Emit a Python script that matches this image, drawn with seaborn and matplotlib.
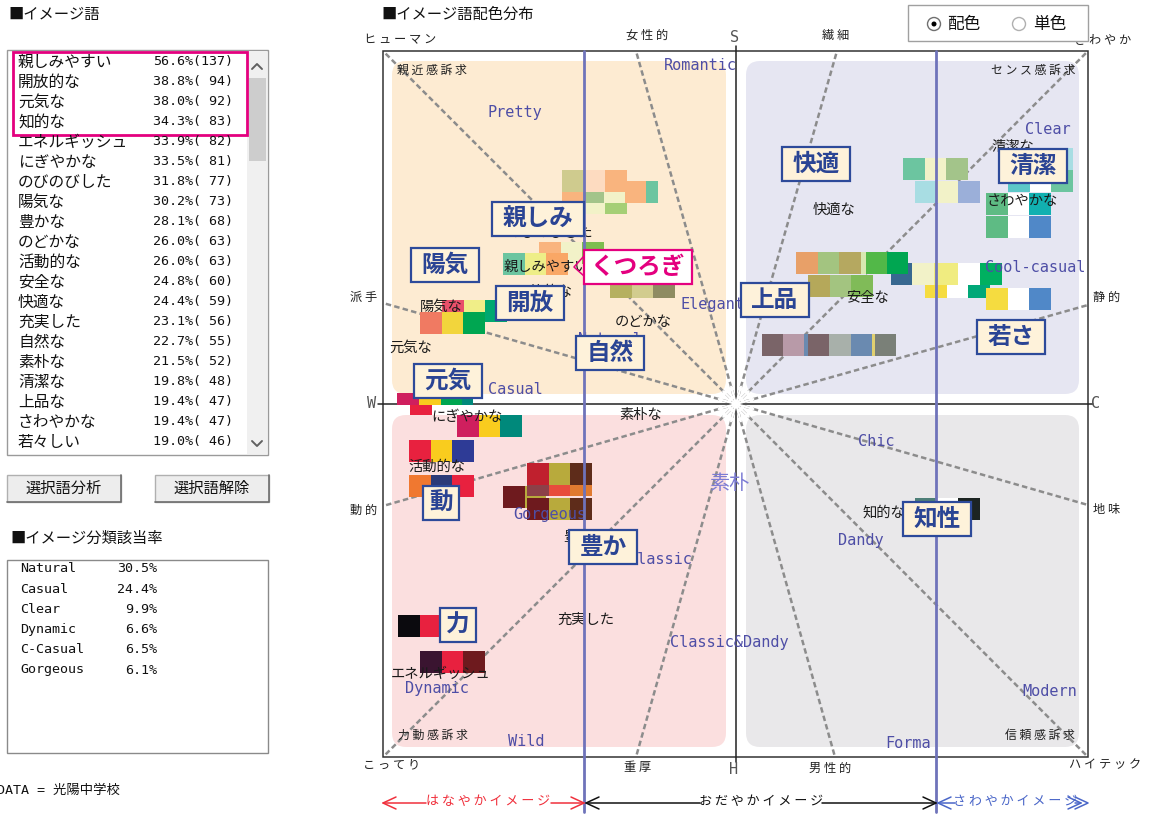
import numpy as np
import pandas as pd
import matplotlib.pyplot as plt
import seaborn as sns
from matplotlib.patches import Rectangle, FancyBboxPatch, Circle

sns.set_theme(style="white")
JP = ['Noto Sans CJK JP', 'DejaVu Sans']
MONO = ['DejaVu Sans Mono', 'Noto Sans CJK JP']
plt.rcParams['font.family'] = JP

# ---------------- left panel data ----------------
word_names = ['親しみやすい', '開放的な', '元気な', '知的な', 'エネルギッシュ', 'にぎやかな',
              'のびのびした', '陽気な', '豊かな', 'のどかな', '活動的な', '安全な', '快適な',
              '充実した', '自然な', '素朴な', '清潔な', '上品な', 'さわやかな', '若々しい']
word_pct = [56.6, 38.8, 38.0, 34.3, 33.9, 33.5, 31.8, 30.2, 28.1, 26.0, 26.0, 24.8, 24.4,
            23.1, 22.7, 21.5, 19.8, 19.4, 19.4, 19.0]
word_counts = [137, 94, 92, 83, 82, 81, 77, 73, 68, 63, 63, 60, 59, 56, 55, 52, 48, 47, 47, 46]

class_names = ['Natural', 'Casual', 'Clear', 'Dynamic', 'C-Casual', 'Gorgeous']
class_pct = [30.5, 24.4, 9.9, 6.6, 6.5, 6.1]

# ---------------- image scale data (centre = 0, 0) ----------------
ray_x = [-353, -100, 101, 352, -353, 352, -353, 352, -353, -100, 99, 352]
ray_y = [353, 353, 353, 353, 101, 99, -102, -101, -353, -353, -353, -353]

pole_labels = ['ヒューマン', '女性的', '繊細', 'さわやか', '派手', '静的', '動的', '地味',
               'こってり', '重厚', '男性的', 'ハイテック']
pole_x = [-336, -89, 100, 367, -372, 371, -372, 371, -344, -98, 94, 369]
pole_y = [364, 369, 369, 363, 107, 107, -106, -106, -361, -364, -364, -361]

compass_labels = ['S', 'W', 'C', 'H']
compass_x = [-1, -364, 360, -2]
compass_y = [366, 0, 0, -366]

appeal_labels = ['親近感訴求', 'センス感訴求', '力動感訴求', '信頼感訴求']
appeal_x = [-304, 297, -303, 304]
appeal_y = [334, 334, -331, -331]

quad_colors = ['#FDEBD2', '#E6E6F2', '#FBDFDF', '#E9E8EA']

cat_names = ['Romantic', 'Pretty', 'Elegant', 'Clear', 'Cool-casual', 'Casual', 'Natural',
             'Chic', 'Gorgeous', 'Classic', 'Dandy', 'Classic&Dandy', 'Dynamic', 'Modern',
             'Wild', 'Forma']
cat_x = [-36, -221, -24, 312, 299, -221, -126, 140, -186, -76, 125, -7, -299, 314, -210, 172]
cat_y = [339, 291, 99, 274, 136, 14, 64, -38, -110, -156, -137, -239, -284, -288, -338, -339]

iw_names = ['のびのびした', '親しみやすい', '開放的な', '陽気な', '元気な', '快適な', '安全な',
            'のどかな', '清潔な', 'さわやかな', 'にぎやかな', '素朴な', '活動的な', '知的な',
            '充実した', 'エネルギッシュ', '豊かな']
iw_x = [-186, -190, -192, -295, -325, 98, 132, -93, 277, 286, -269, -95, -299, 148, -150, -295, -151]
iw_y = [171, 137, 112, 97, 56, 194, 106, 82, 257, 203, -13, -11, -63, -109, -216, -270, -133]

kw_names = ['親しみ', '陽気', '開放', '元気', '自然', '快適', '清潔', '上品', '若さ', '動',
            '豊か', '力', '知性']
kw_x = [-198, -291, -206, -288, -126, 80, 297, 39, 275, -295, -133, -278, 201]
kw_y = [185, 139, 101, 23, 51, 240, 238, 104, 67, -99, -143, -221, -115]
focus_name, focus_x, focus_y = 'くつろぎ', -98, 137

sw_x = [-174, -153, -174, -197, -233, -126, -294, -316, -339, -326, -279, -327, -327,
        -209, -233, -209, -209, -338, -316, 167, 179, 272, 272, 250, 250, 189, 155, 60, 125,
        72, 250, 26, 179]
sw_y = [212, 223, 234, 162, 151, 128, 104, 92, 11, -1, -11, -36, -71,
        -59, -82, -94, -81, -211, -247, 246, 223, 256, 234, 211, 188, 128, 141, 152, 152,
        129, 116, 70, -94]
sw_colors = [
    ['#F9B47E', '#F2F2C8', '#A5CF76'],
    ['#A3C48A', '#F2F2C8', '#F9B47E', '#6CC5A0'],
    ['#CFCB8E', '#FDDBC0', '#F9B47E'],
    ['#F9B47E', '#F2F2C8', '#7DBE4F'],
    ['#6CC5A0', '#EEEE88', '#F9A766'],
    ['#B5B060', '#D2CC8E', '#8E8C62'],
    ['#E8506A', '#F0EE88', '#00A870'],
    ['#F07A62', '#F2D53C', '#00A651'],
    ['#CF1F5E', '#F9CC1E', '#00A651', '#00897B'],
    ['#E8213F'],
    ['#CF1F5E', '#F9CC1E', '#00897B'],
    ['#E8213F', '#F9CC1E', '#2E3B96'],
    ['#F07830', '#2C3A78', '#E8213F'],
    ['#C0202E', '#B8AA3C', '#5E2C1A'],
    ['#6E1A1E', '#B8AA3C'],
    ['#6E1A1E', '#B8AA3C', '#5E2C1A'],
    ['#8C4048', '#E84C3C', '#E07A30'],
    ['#0B0A0E', '#E8213F', '#E8213F'],
    ['#3A1430', '#E8213F', '#6E1A1E'],
    ['#6CC5A0', '#F2F2C8', '#A3C48A'],
    ['#A8DDE3', '#F2F2C8', '#9BAFD9'],
    ['#5CC8C8', '#FFFFFF', '#A8DDE3'],
    ['#5CC8C8', '#FFFFFF', '#6CC5A0'],
    ['#5EBB84', '#FFFFFF', '#12B0B0'],
    ['#5EBB84', '#FFFFFF', '#5088C8'],
    ['#F5DC40', '#FFFFFF', '#00A878'],
    ['#386890', '#F2F2C8', '#F0EC80', '#FFFFFF', '#00B060'],
    ['#E8A068', '#A3C480', '#B5A860'],
    ['#D8E8B0', '#52B848', '#00A651'],
    ['#B5A85A', '#A3C480', '#80BB58'],
    ['#F5DC40', '#FFFFFF', '#5088C8'],
    ['#7A6468', '#B89AA8', '#6A8AB0', '#7A6468', '#A8B0AA', '#6A8AB0', '#E0D070', '#7A8078'],
    ['#4E7F78', '#FFFFFF', '#1C2422'],
]
sw_widths = {1: [21, 21, 21, 12], 8: [22, 22, 21, 11], 26: [21, 22, 24, 22, 22],
             28: [5, 21, 21], 31: [21, 21, 4, 21, 22, 21, 3, 21]}
sw_heights = {8: 12, 9: 10, 16: 11}

# ---------------- figure ----------------
fig = plt.figure(figsize=(11.56, 8.14), dpi=100)
bg = fig.add_axes([0, 0, 1, 1])
bg.set_xlim(0, 1156)
bg.set_ylim(814, 0)
bg.axis('off')

ax = fig.add_axes([383 / 1156, 57 / 814, 705 / 1156, 706 / 814])
ax.axis('off')

top = fig.add_axes([0, 0, 1, 1])
top.set_xlim(0, 1156)
top.set_ylim(814, 0)
top.axis('off')

# ---- left panel ----
bg.text(8, 14, '■イメージ語', fontsize=11, va='center', color='#111')
bg.add_patch(Rectangle((7, 50), 261, 405, fc='white', ec='#9A9A9A', lw=1))
bg.add_patch(Rectangle((247, 51), 20, 403, fc='#F0F0F0', ec='none'))
bg.add_patch(Rectangle((249, 78), 17, 83, fc='#CDCDCD', ec='none'))
bg.plot([252, 257, 262], [69, 64, 69], color='#606060', lw=1.4)
bg.plot([252, 257, 262], [441, 446, 441], color='#606060', lw=1.4)
for i, (n, p, c) in enumerate(zip(word_names, word_pct, word_counts)):
    y = 62 + 20 * i
    bg.text(18, y, n, fontsize=11.3, va='center', color='#111')
    bg.text(153, y, f'{p:.1f}%({c:>3})', fontsize=9.6, va='center', family=MONO, color='#111')
bg.add_patch(Rectangle((13, 52), 234, 83, fc='none', ec='#E4007F', lw=2))

for bx, label in [(7, '選択語分析'), (155, '選択語解除')]:
    bg.add_patch(Rectangle((bx, 475), 114, 27, fc='#EDEDED', ec='#B0B0B0', lw=1))
    bg.plot([bx + 114, bx + 114, bx], [475, 502, 502], color='#6E6E6E', lw=1.2)
    bg.text(bx + 57, 488.5, label, fontsize=11, ha='center', va='center', color='#111')

bg.text(10, 538, '■イメージ分類該当率', fontsize=11, va='center', color='#111')
bg.add_patch(Rectangle((7, 560), 261, 193, fc='white', ec='#8A8A8A', lw=1))
for i, (n, p) in enumerate(zip(class_names, class_pct)):
    y = 569 + 20.2 * i
    bg.text(20, y, n, fontsize=9.6, va='center', family=MONO, color='#111')
    bg.text(157, y, f'{p:.1f}%', fontsize=9.6, va='center', ha='right', family=MONO, color='#111')
bg.text(-3, 790, 'DATA = 光陽中学校', fontsize=9.6, va='center', family=MONO, color='#111')

bg.text(381, 14, '■イメージ語配色分布', fontsize=11, va='center', color='#111')

# ---- image scale ----
spaced = lambda s: ' '.join(s)

quads = [(-344, 10, 334, 333), (10, 10, 333, 333), (-344, -343, 334, 332), (10, -343, 333, 332)]
for (qx, qy, qw, qh), qc in zip(quads, quad_colors):
    ax.add_patch(FancyBboxPatch((qx, qy), qw, qh, boxstyle='round,pad=0,rounding_size=14',
                                fc=qc, ec='none', zorder=1))

rays = pd.DataFrame({
    'ray': np.repeat(np.arange(len(ray_x)), 2),
    'x': np.ravel(np.column_stack([np.zeros(len(ray_x)), ray_x])),
    'y': np.ravel(np.column_stack([np.zeros(len(ray_y)), ray_y])),
})
sns.lineplot(data=rays, x='x', y='y', units='ray', estimator=None, sort=False, ax=ax,
             color='#8C8C8C', lw=1.8, linestyle=(0, (2.2, 1.3)), legend=False, zorder=2)
for rx, ry in zip(ray_x, ray_y):
    f = 18 / np.hypot(rx, ry)
    ax.plot([0, rx * f], [0, ry * f], color='white', lw=1.6, zorder=2.5)

ax.add_patch(Rectangle((-353, -353), 705, 706, fc='none', ec='#333333', lw=1.1, zorder=2,
                       clip_on=False))
ax.plot([-358, 357], [0, 0], color='#222222', lw=1.1, zorder=2, clip_on=False)
ax.plot([0, 0], [-358, 358], color='#222222', lw=1.1, zorder=2, clip_on=False)

for i, (sx, sy, cols) in enumerate(zip(sw_x, sw_y, sw_colors)):
    widths = sw_widths.get(i, [21.5] * len(cols))
    h = sw_heights.get(i, 21.5)
    lefts = sx + np.concatenate([[0], np.cumsum(widths)[:-1]])
    ax.bar(lefts, h, width=widths, bottom=sy - h, align='edge', color=cols, lw=0, zorder=3)

for t, x, y in zip(pole_labels, pole_x, pole_y):
    ax.text(x, y, spaced(t), fontsize=8.8, ha='center', va='center', color='#222', clip_on=False)
for t, x, y in zip(compass_labels, compass_x, compass_y):
    ax.text(x, y, t, fontsize=11, ha='center', va='center', color='#555', family=MONO,
            clip_on=False)
for t, x, y in zip(appeal_labels, appeal_x, appeal_y):
    ax.text(x, y, spaced(t), fontsize=8.6, ha='center', va='center', color='#222', zorder=4)

for t, x, y in zip(cat_names, cat_x, cat_y):
    ax.text(x, y, t, fontsize=11, ha='center', va='center', color='#4E4EA6', family=MONO, zorder=4)
ax.text(-7, -79, '素朴', fontsize=14.5, ha='center', va='center', color='#7C7CD4', zorder=4)

for t, x, y in zip(iw_names, iw_x, iw_y):
    ax.text(x, y, t, fontsize=10.3, ha='center', va='center', color='#1A1A1A', zorder=4)

for bx in [-152, 200]:
    ax.plot([bx, bx], [353, -408], color='#6F73BA', lw=2, zorder=5, clip_on=False)

for t, x, y in zip(kw_names, kw_x, kw_y):
    n = len(t)
    w = 24 * n + (12 if n == 1 else 20)
    ax.add_patch(Rectangle((x - w / 2, y - 17), w, 34, fc='#FEF2DA', ec='#2D4A9A', lw=1.6, zorder=6))
    ax.text(x, y, t, fontsize=17, fontweight='bold', ha='center', va='center',
            color='#2A4494', zorder=7)
ax.add_patch(Rectangle((focus_x - 54, focus_y - 17), 108, 34, fc='white', ec='#E4007F', lw=1.6, zorder=6))
ax.text(focus_x, focus_y, focus_name, fontsize=17, fontweight='bold', ha='center', va='center',
        color='#E4007F', zorder=7)
ax.plot([-152, -162, -152], [148, 137, 128], color='#E4007F', lw=1.1, zorder=6)

ax.set_xlim(-353, 352)
ax.set_ylim(-353, 353)

# ---- radio box ----
top.add_patch(Rectangle((908, 5), 180, 36, fc='white', ec='#A0A0A0', lw=1))
top.add_patch(Circle((934, 24), 6.5, fc='white', ec='#707070', lw=1))
top.add_patch(Circle((934, 24), 2.5, fc='black', ec='none'))
top.add_patch(Circle((1019, 24), 6.5, fc='white', ec='#B0B0B0', lw=1))
top.text(947, 24, '配色', fontsize=12, va='center', color='#111')
top.text(1033, 24, '単色', fontsize=12, va='center', color='#111')

# ---- bottom image bands ----
def band(x0, x1, t0, t1, color, label, tx):
    top.plot([x0, t0], [803, 803], color=color, lw=1.1)
    top.plot([t1, x1], [803, 803], color=color, lw=1.1)
    top.plot([x0 + 13, x0, x0 + 13], [797, 803, 809], color=color, lw=1.1)
    top.plot([x1 - 13, x1, x1 - 13], [797, 803, 809], color=color, lw=1.1)
    top.text(tx, 802, spaced(label), fontsize=9.4, ha='center', va='center', color=color)

band(383, 584, 426, 551, '#F0303C', 'はなやかイメージ', 488)
band(586, 936, 700, 822, '#111111', 'おだやかイメージ', 761)
band(938, 1081, 955, 1075, '#4A66C8', 'さわやかイメージ', 1015)
top.plot([1075, 1088, 1075], [797, 803, 809], color='#4A66C8', lw=1.1)

fig.savefig('out.png', dpi=100)
